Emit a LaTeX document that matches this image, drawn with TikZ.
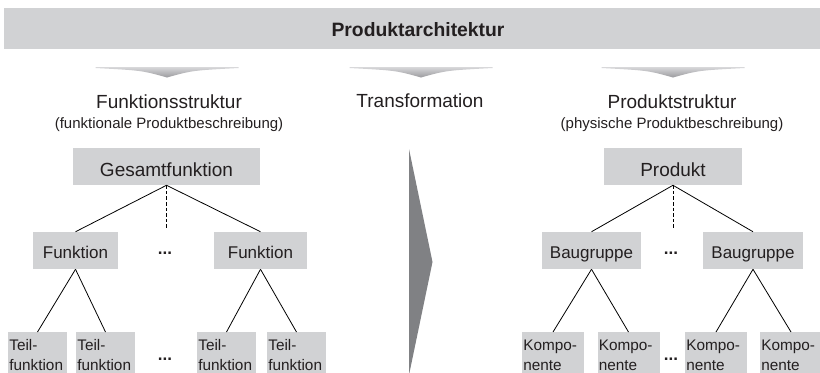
\documentclass[tikz,border=0pt]{standalone}
\usepackage{fontspec}
\setmainfont{Liberation Sans}
\definecolor{boxgray}{HTML}{D1D2D4}
\definecolor{arrowgray}{HTML}{808184}
\definecolor{wedgetop}{HTML}{D8D8DA}
\definecolor{wedgebot}{HTML}{9A9A9E}
\definecolor{txt}{HTML}{231F20}
\tikzset{
  box/.style={rectangle, fill=boxgray, inner sep=0pt, text=txt},
  bigbox/.style={box, font=\fontsize{14.25pt}{17pt}\selectfont, minimum height=27.75pt, text height=14.25pt, text depth=0pt},
  midbox/.style={box, font=\fontsize{12.75pt}{15pt}\selectfont, minimum height=27.75pt, text height=12pt, text depth=0pt},
  smallbox/.style={box, font=\fontsize{11.5pt}{15pt}\selectfont, align=left, inner xsep=1pt, inner ysep=0pt, minimum height=34.5pt, anchor=north},
  title/.style={text=txt, inner sep=0pt, anchor=base, font=\fontsize{14.25pt}{17pt}\selectfont},
  subtitle/.style={text=txt, inner sep=0pt, anchor=base, font=\fontsize{11.25pt}{14pt}\selectfont},
  dots/.style={text=txt, inner sep=0pt, anchor=base, font=\bfseries\fontsize{12.75pt}{15pt}\selectfont},
  conn/.style={draw=black, line width=0.6pt},
  dashconn/.style={draw=black, line width=0.6pt, dash pattern=on 2.6pt off 1.6pt},
  wedge/.style={top color=wedgetop, bottom color=wedgebot, draw=none}
}
\begin{document}
\begin{tikzpicture}[x=0.75pt,y=-0.75pt]
\useasboundingbox (0,0) rectangle (820,372);
\clip (0,0) rectangle (820,372);

% banner
\node[box, minimum width=621pt, minimum height=30.75pt, font=\bfseries\fontsize{14.5pt}{17pt}\selectfont, text height=12pt, text depth=0pt] (banner) at (418,28.5) {Produktarchitektur};

% wedges
\foreach \cx in {167,421,673}{
  \path[wedge] (\cx-71.5,67) -- (\cx+71.5,67) -- (\cx+71.5,68)
     .. controls (\cx+25,70.5) .. (\cx,77.5)
     .. controls (\cx-25,70.5) .. (\cx-71.5,68) -- cycle;
}

% titles
\node[title] (tfs) at (169,108) {Funktionsstruktur};
\node[subtitle] (tfsb) at (169,128.5) {(funktionale Produktbeschreibung)};
\node[title] (ttr) at (420,107.5) {Transformation};
\node[title] (tps) at (672,108) {Produktstruktur};
\node[subtitle] (tpsb) at (672,128.5) {(physische Produktbeschreibung)};

% transformation arrow
\fill[arrowgray] (409,149) -- (432.5,262) -- (409,375) -- cycle;

% left tree
\node[bigbox, minimum width=140.25pt] (gf) at (166.5,166.5) {Gesamtfunktion};
\node[midbox, minimum width=63.75pt] (f1) at (75.5,250.5) {Funktion};
\node[midbox, minimum width=69.75pt] (f2) at (260.5,250.5) {Funktion};
\node[dots] (fd) at (165,254.5) {...};
\coordinate (gfd) at (166.5,230);
\draw[conn] (gf.south) -- (f1.north);
\draw[conn] (gf.south) -- (f2.north);
\draw[dashconn] (gf.south) -- (gfd);

\node[smallbox, text width=42.25pt] (t1) at (37.5,332) {Teil-\\funktion};
\node[smallbox, text width=42.25pt] (t2) at (105.5,332) {Teil-\\funktion};
\node[smallbox, text width=42.25pt] (t3) at (226.5,332) {Teil-\\funktion};
\node[smallbox, text width=42.25pt] (t4) at (296.5,332) {Teil-\\funktion};
\node[dots] (td) at (165,360) {...};
\draw[conn] (f1.south) -- (t1.north);
\draw[conn] (f1.south) -- (t2.north);
\draw[conn] (f2.south) -- (t3.north);
\draw[conn] (f2.south) -- (t4.north);

% right tree
\node[bigbox, minimum width=103.5pt] (pr) at (673,166.5) {Produkt};
\node[midbox, minimum width=74.25pt] (b1) at (591.5,250.5) {Baugruppe};
\node[midbox, minimum width=75pt] (b2) at (753,250.5) {Baugruppe};
\node[dots] (bd) at (671,254.5) {...};
\coordinate (prd) at (673,230);
\draw[conn] (pr.south) -- (b1.north);
\draw[conn] (pr.south) -- (b2.north);
\draw[dashconn] (pr.south) -- (prd);

\node[smallbox, text width=44.5pt] (k1) at (553,332) {Kompo-\\nente};
\node[smallbox, text width=44.5pt] (k2) at (628.5,332) {Kompo-\\nente};
\node[smallbox, text width=44.5pt] (k3) at (716,332) {Kompo-\\nente};
\node[smallbox, text width=44.5pt] (k4) at (791,332) {Kompo-\\nente};
\node[dots] (kd) at (671,360) {...};
\draw[conn] (b1.south) -- (k1.north);
\draw[conn] (b1.south) -- (k2.north);
\draw[conn] (b2.south) -- (k3.north);
\draw[conn] (b2.south) -- (k4.north);
\end{tikzpicture}
\end{document}
